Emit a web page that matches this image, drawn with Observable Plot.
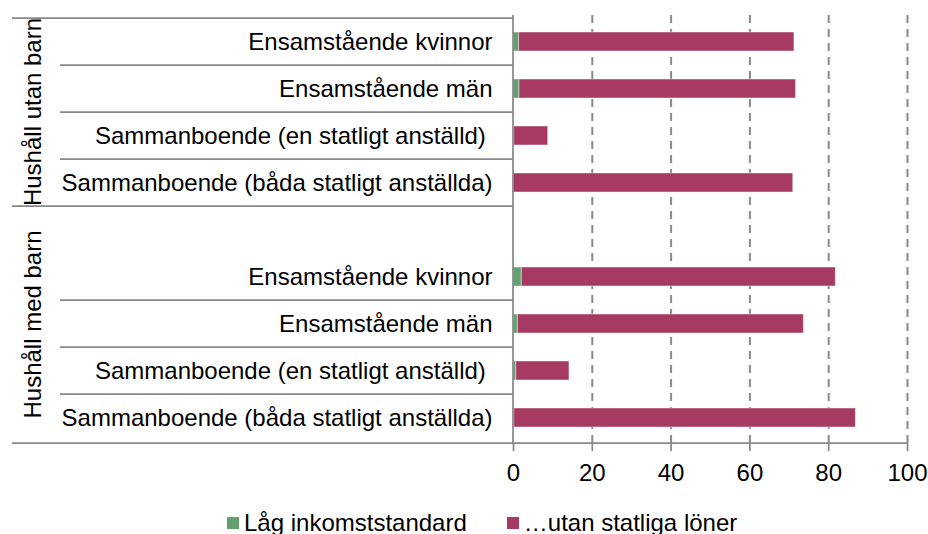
<!DOCTYPE html>
<html>
<head>
<meta charset="utf-8">
<script src="https://cdn.jsdelivr.net/npm/d3@7"></script>
<script src="https://cdn.jsdelivr.net/npm/@observablehq/plot@0.6"></script>
<style>
  body { margin: 0; background: #fff; font-family: "Liberation Sans", Arial, sans-serif; }
  #chart svg { display: block; }
  #legend { display: flex; align-items: center; height: 24px; line-height: 24px; font-size: 24px; color: #000; padding-left: 227px; white-space: nowrap; }
  #legend .item { display: flex; align-items: center; }
  #legend .sw { width: 12px; height: 12px; margin-right: 5px; display: inline-block; }
</style>
</head>
<body>
<div id="chart"></div>
<div id="legend"></div>
<script>
// ---- data ----
const groups = ["Hushåll utan barn", "Hushåll med barn"];
const categories = [
  "Ensamstående kvinnor",
  "Ensamstående män",
  "Sammanboende (en statligt anställd)\u00a0",
  "Sammanboende (båda statligt anställda)"
];
const series = ["Låg inkomststandard", "…utan statliga löner"];
const colors = ["#62a06f", "#a63a62"];
// Hushåll utan barn
const lagUtanBarn = [1.4, 1.5, 0.2, 0.0];
const utanStatligaUtanBarn = [69.9, 70.2, 8.6, 71.0];
// Hushåll med barn
const lagMedBarn = [2.1, 1.1, 0.7, 0.2];
const utanStatligaMedBarn = [79.7, 72.6, 13.5, 86.7];
const xTicks = [0, 20, 40, 60, 80, 100];

// ---- build tables ----
const groupKeys = ["utan", "med"];
const domain = [
  ...categories.map((c, i) => "utan|" + i),
  "gap",
  ...categories.map((c, i) => "med|" + i)
];
const labelRows = [];
const bars = [];
[[lagUtanBarn, utanStatligaUtanBarn], [lagMedBarn, utanStatligaMedBarn]].forEach(([lag, utan], gi) => {
  categories.forEach((c, i) => {
    const key = groupKeys[gi] + "|" + i;
    labelRows.push({key, label: c});
    bars.push({key, series: series[0], value: lag[i]});
    bars.push({key, series: series[1], value: utan[i]});
  });
});

const W = 928, H = 511;
const mL = 513, mR = 21, mT = 15, mB = 68;
const FS = 24;
const GRAY = "#898989";

function frameMark(index, scales, values, dims) {
  const y = scales.y;
  const bottom = dims.height - dims.marginBottom;
  const step = y.step ? y.step() : (bottom - dims.marginTop) / domain.length;
  const bw = y.bandwidth ? y.bandwidth() : 0;
  const topOf = k => y(k) + bw / 2 - step / 2;
  const g = d3.create("svg:g");
  const lines = g.append("g").attr("stroke", GRAY).attr("stroke-width", 1.75).attr("fill", "none");
  const hl = (x1, x2, yy) => lines.append("line").attr("x1", x1).attr("x2", x2).attr("y1", yy).attr("y2", yy);
  const left = 12, inner = 60;
  // group boundaries
  hl(left, dims.marginLeft, topOf(domain[0]));
  hl(left, dims.marginLeft, topOf("gap"));
  hl(left, dims.width - dims.marginRight, bottom);
  // row boundaries inside groups
  domain.forEach(k => {
    if (k === "gap" || k.endsWith("|0")) return;
    hl(inner, dims.marginLeft, topOf(k));
  });
  // vertical category axis
  lines.append("line").attr("x1", dims.marginLeft).attr("x2", dims.marginLeft)
    .attr("y1", dims.marginTop).attr("y2", bottom);
  // group labels
  const centers = [
    (topOf(domain[0]) + topOf("gap")) / 2,
    (topOf("gap") + bottom) / 2
  ];
  groups.forEach((gname, gi) => {
    g.append("text")
      .attr("transform", `translate(41,${centers[gi]}) rotate(-90)`)
      .attr("text-anchor", "middle")
      .attr("font-size", FS)
      .attr("fill", "#000")
      .text(gname);
  });
  return g.node();
}

const chart = Plot.plot({
  width: W,
  height: H,
  marginLeft: mL,
  marginRight: mR,
  marginTop: mT,
  marginBottom: mB,
  style: {fontFamily: '"Liberation Sans", Arial, sans-serif', fontSize: FS + "px", background: "#fff", color: "#000"},
  x: {domain: [0, 100], axis: null},
  y: {domain, paddingInner: 0.6, paddingOuter: 0.3, axis: null},
  color: {domain: series, range: colors},
  marks: [
    Plot.ruleX(xTicks.filter(d => d > 0), {stroke: GRAY, strokeWidth: 2, strokeDasharray: "8,6"}),
    Plot.barX(bars, Plot.stackX({y: "key", x: "value", fill: "series", order: series, stroke: "#fff", strokeOpacity: 0.45, strokeWidth: 1})),
    frameMark,
    Plot.axisX({ticks: xTicks, tickSize: 8, tickPadding: 12, stroke: GRAY, strokeWidth: 1.75, fontSize: FS, label: null, anchor: "bottom", fill: "#000"}),
    Plot.text(labelRows, {y: "key", text: "label", frameAnchor: "left", textAnchor: "end", dx: -21, fontSize: FS, fill: "#000"})
  ]
});
document.getElementById("chart").appendChild(chart);

const legend = document.getElementById("legend");
series.forEach((s, i) => {
  const item = document.createElement("div");
  item.className = "item";
  if (i > 0) item.style.marginLeft = "40px";
  const sw = document.createElement("span");
  sw.className = "sw";
  sw.style.background = colors[i];
  const t = document.createElement("span");
  t.textContent = s;
  item.appendChild(sw);
  item.appendChild(t);
  legend.appendChild(item);
});
</script>
</body>
</html>
